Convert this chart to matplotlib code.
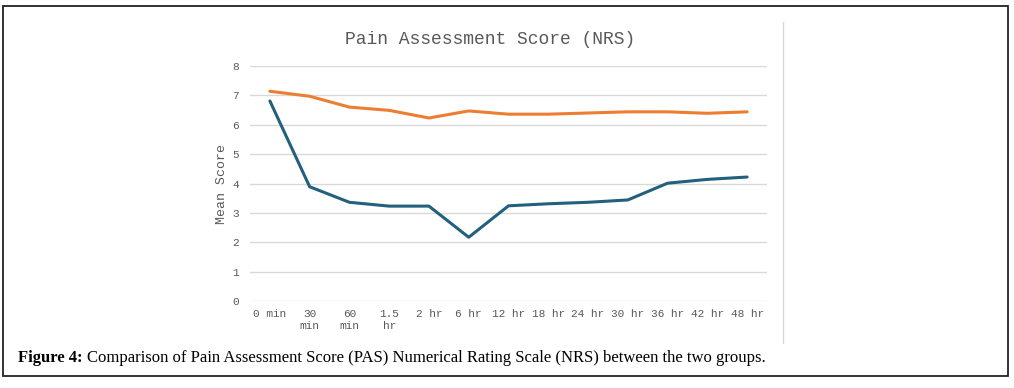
import numpy as np
import matplotlib
matplotlib.use("Agg")
import matplotlib.pyplot as plt
from matplotlib.patches import Rectangle
from matplotlib.lines import Line2D

# Time points and mean NRS scores for the two groups
time_labels = ['0 min', '30\nmin', '60\nmin', '1.5\nhr', '2 hr', '6 hr', '12 hr',
               '18 hr', '24 hr', '30 hr', '36 hr', '42 hr', '48 hr']
group_orange = [7.14, 6.97, 6.60, 6.49, 6.23, 6.47, 6.36, 6.36, 6.40, 6.44, 6.44, 6.39, 6.44]
group_blue = [6.81, 3.89, 3.36, 3.23, 3.23, 2.17, 3.24, 3.31, 3.36, 3.44, 4.01, 4.14, 4.22]
y_ticks = [0, 1, 2, 3, 4, 5, 6, 7, 8]

W, H = 1014, 388
fig = plt.figure(figsize=(W / 100, H / 100), dpi=100)

mono = ['Liberation Mono', 'DejaVu Sans Mono']
serif = ['Liberation Serif', 'DejaVu Serif']

ax = fig.add_axes([250 / W, 87 / H, 517 / W, 235 / H])
x = np.arange(len(time_labels))
ax.plot(x, group_orange, color='#ED7D31', lw=2.2, solid_capstyle='round')
ax.plot(x, group_blue, color='#23607E', lw=2.2, solid_capstyle='round')

ax.set_xlim(-0.5, len(time_labels) - 0.5)
ax.set_ylim(0, 8)
ax.set_yticks(y_ticks)
ax.set_xticks(x)
ax.set_xticklabels(time_labels, family=mono, fontsize=8, color='#595959',
                   linespacing=1.2, va='top')
ax.set_yticklabels([str(v) for v in y_ticks], family=mono, fontsize=8,
                   color='#595959')
ax.tick_params(length=0, pad=8, axis='y')
ax.tick_params(length=0, pad=6, axis='x')
ax.grid(axis='y', color='#D9D9D9', lw=1)
ax.set_axisbelow(True)
for s in ax.spines.values():
    s.set_visible(False)

ax.set_ylabel('Mean Score', family=mono, fontsize=9.5, color='#595959', labelpad=3)
fig.text(490 / W, 1 - 40 / H, 'Pain Assessment Score (NRS)', family=mono,
         fontsize=13, color='#595959', ha='center', va='center')

# frame and separator line
fig.add_artist(Rectangle((3 / W, 1 - 376 / H), 1005 / W, 370 / H,
                         transform=fig.transFigure, fill=False,
                         edgecolor='#222222', lw=1.3))
fig.add_artist(Line2D([783 / W, 783 / W], [1 - 22 / H, 1 - 343 / H],
                      transform=fig.transFigure, color='#D9D9D9', lw=1))

# caption
cy = 1 - 358 / H
t1 = fig.text(18 / W, cy, 'Figure 4:', family=serif, fontsize=12,
              fontweight='bold', ha='left', va='center')
fig.canvas.draw()
bb = t1.get_window_extent()
fig.text((bb.x1 + 4) / W, cy,
         'Comparison of Pain Assessment Score (PAS) Numerical Rating Scale (NRS) between the two groups.',
         family=serif, fontsize=12, ha='left', va='center')

fig.savefig('out.png', dpi=100)
